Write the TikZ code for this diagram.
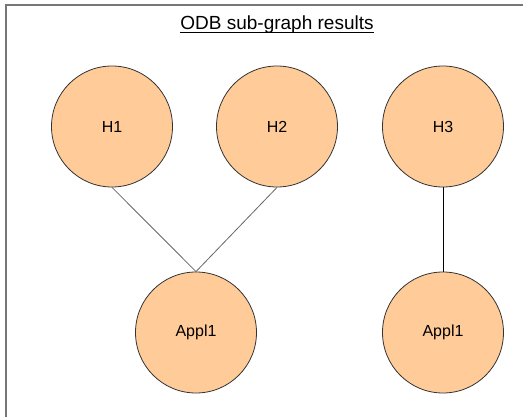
\documentclass[tikz,border=0pt]{standalone}
\usepackage{fontspec}
\setmainfont{Liberation Sans}
\usepackage{tikz}

\definecolor{peach}{HTML}{FFCC99}
\definecolor{framegray}{HTML}{777777}

\begin{document}
\begin{tikzpicture}[x=1pt,y=-1pt,
        vertex/.style={circle, draw=black!80, line width=0.8pt, fill=peach,
            minimum size=121pt, inner sep=0pt, font=\fontsize{16}{18}\selectfont},
        link/.style={line width=0.8pt}]
        \useasboundingbox (0,0) rectangle (523,417);
        % frame, only top and left sides are seen
        \draw[framegray, line width=2pt] (6,420) -- (6,5) -- (526,5);
        \node[anchor=base, inner sep=0pt, font=\fontsize{19}{22}\selectfont] (title) at (277,30) {ODB sub-graph results};
        \draw[line width=0.9pt] ([yshift=-2.7pt]title.base west) -- ([yshift=-2.7pt]title.base east);
        % hosts
        \node[vertex] (h1) at (112,126.5) {H1};
        \node[vertex] (h2) at (277,126.5) {H2};
        \node[vertex] (h3) at (443,126.5) {H3};
        % applications
        \node[vertex] (app1) at (196,332.5) {Appl1};
        \node[vertex] (app2) at (443,332.5) {Appl1};
        \draw[link, black!60] (h1.south) -- (app1.north);
        \draw[link, black!60] (h2.south) -- (app1.north);
        \draw[link, black] (h3.south) -- (app2.north);
    \end{tikzpicture}
\end{document}
